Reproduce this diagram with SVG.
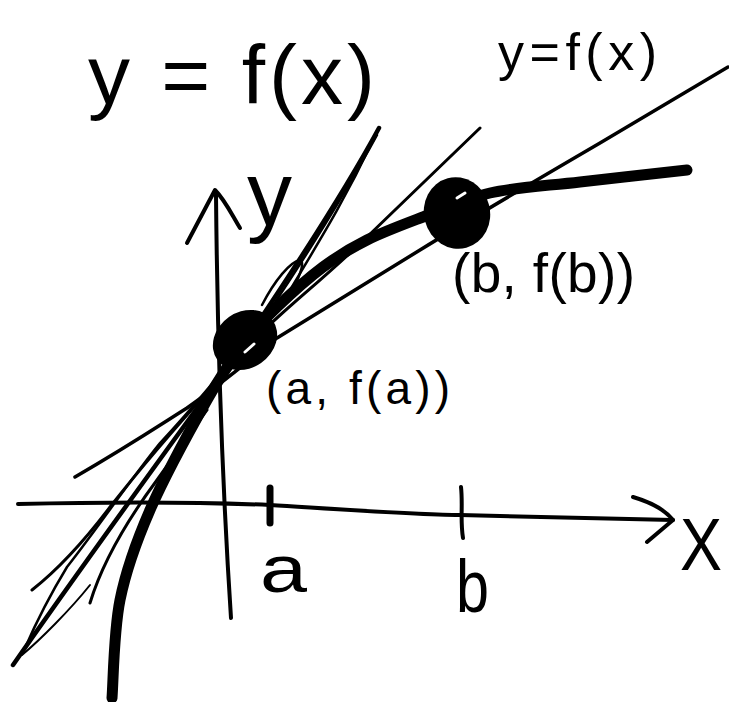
<svg xmlns="http://www.w3.org/2000/svg" width="729" height="702" viewBox="0 0 729 702">
<style>
.ink{fill:none;stroke:#000;stroke-linecap:round;stroke-linejoin:round}
.t{font-family:"Liberation Sans",Arial,sans-serif;fill:#000}
</style>
<rect width="729" height="702" fill="#fff"/>
<g id="axes">
  <path class="ink" stroke-width="4" d="M216,195 C217,300 220,450 231,618"/>
  <path class="ink" stroke-width="4" d="M187,243 L215,190 C225,200 232,215 240,228"/>
  <path class="ink" stroke-width="4" d="M18,504 C100,502 200,502 270,505 C350,510 420,515 460,515 L673,520"/>
  <path class="ink" stroke-width="4" d="M633,497 C650,502 665,510 673,520 L647,542"/>
  <path class="ink" stroke-width="7" d="M270,488 L270,523"/>
  <path class="ink" stroke-width="4" d="M461,487 C463,505 460,520 463,538"/>
</g>
<g id="lines">
  <path class="ink" stroke-width="3.5" d="M75,477 C130,445 160,425 187,408 C220,385 250,360 277,338 L420,250 C480,213 540,178 600,143 L728,67"/>
  <path class="ink" stroke-width="3" d="M480,128 L367,237 C320,283 270,320 245,350 C215,385 170,430 110,507 C85,540 60,568 32,590"/>
  <path class="ink" stroke-width="4.5" d="M379,128 C340,200 280,290 245,342 C200,405 100,540 13,665"/>
  <path class="ink" stroke-width="2.5" d="M377,135 C350,185 310,250 270,310 C240,350 200,400 160,443 C130,480 100,525 67,567 C50,595 35,625 25,648"/>
  <path class="ink" stroke-width="2.5" d="M373,140 C345,200 320,240 290,290"/>
  <path class="ink" stroke-width="2.5" d="M262,305 C275,280 290,262 300,260 C306,262 298,280 290,295"/>
  <path class="ink" stroke-width="3" d="M90,603 C100,570 120,530 157,480 L207,410"/>
  <path class="ink" stroke-width="2" d="M22,655 C40,640 70,610 90,585"/>
</g>
<g id="curve">
  <path class="ink" stroke-width="11" d="M112,698 C113.3,681.7 113.7,631.3 120,600 C126.3,568.7 135.5,543.3 150,510 C164.5,476.7 191.2,428 207,400 C222.8,372 233.3,357.5 245,342 C256.7,326.5 264,319.5 277,307 C290,294.5 308,278.2 323,267 C338,255.8 350.3,248.3 367,240 C383.7,231.7 402.5,224.8 423,217 C443.5,209.2 463.8,198.8 490,193 C516.2,187.2 547.2,185.8 580,182 C612.8,178.2 669.2,172 687,170"/>
</g>
<g id="point-a">
  <ellipse cx="245" cy="340" rx="34" ry="28" transform="rotate(-35 245 340)" fill="#000"/>
  <path d="M245,352 L254,344" stroke="#fff" stroke-width="3" stroke-linecap="round"/>
  <text class="t" x="266" y="404" font-size="46" textLength="184" lengthAdjust="spacing">(a, f(a))</text>
</g>
<g id="point-b">
  <ellipse cx="457" cy="213" rx="33" ry="36" transform="rotate(-15 457 213)" fill="#000"/>
  <path d="M457,198 L465,193" stroke="#fff" stroke-width="3" stroke-linecap="round"/>
  <text class="t" x="452" y="292" font-size="55" textLength="183" lengthAdjust="spacing">(b, f(b))</text>
</g>
<g id="labels">
  <text class="t" x="88" y="104" font-size="84" textLength="287" lengthAdjust="spacing">y = f(x)</text>
  <text class="t" x="498" y="70" font-size="52" textLength="159" lengthAdjust="spacing">y=f(x)</text>
  <text class="t" x="247" y="225" font-size="90">y</text>
  <text class="t" x="260" y="592" font-size="66" textLength="47" lengthAdjust="spacingAndGlyphs">a</text>
  <text class="t" x="456" y="612" font-size="74" textLength="33" lengthAdjust="spacingAndGlyphs">b</text>
  <text class="t" x="680" y="570" font-size="74" textLength="42" lengthAdjust="spacingAndGlyphs">X</text>
</g>
</svg>
